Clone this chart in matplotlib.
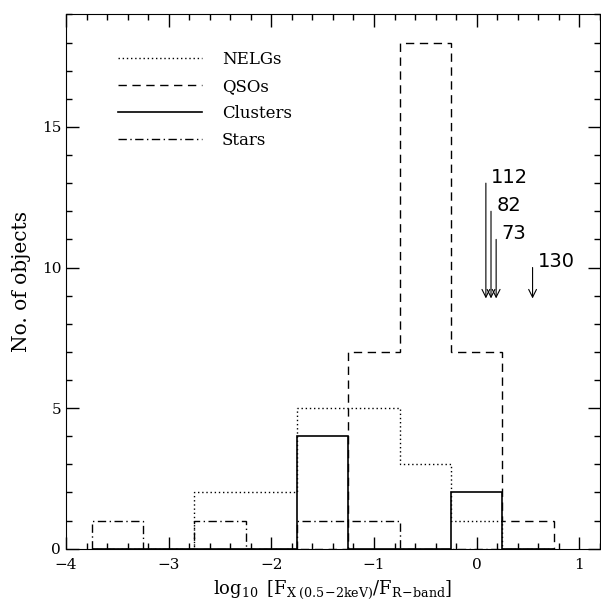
import numpy as np
import matplotlib
matplotlib.use("Agg")
import matplotlib.pyplot as plt
from matplotlib.ticker import MultipleLocator

# bin edges of log10(Fx/FR), width 0.5
edges = [-3.75, -3.25, -2.75, -2.25, -1.75, -1.25, -0.75, -0.25, 0.25, 0.75]
nelgs = [0, 0, 2, 2, 5, 5, 3, 1, 0]
qsos = [0, 0, 0, 0, 0, 7, 18, 7, 1]
clusters = [0, 0, 0, 0, 4, 0, 0, 2, 0]
stars = [1, 0, 1, 0, 1, 1, 0, 0, 0]

# lower limits (arrows) for individual sources
arrow_names = ["112", "82", "73", "130"]
arrow_x = [0.09, 0.14, 0.19, 0.545]
arrow_top = [13, 12, 11, 10]
arrow_tip = 8.9

plt.rcParams["font.family"] = ["DejaVu Serif"]
plt.rcParams["mathtext.fontset"] = "dejavuserif"

fig = plt.figure(figsize=(6.01, 6.01), dpi=100)
ax = fig.add_axes([0.11, 0.087, 0.888, 0.889])

ax.stairs(nelgs, edges, baseline=0, color="black", lw=1.0, ls=(0, (1, 2)), label="NELGs")
ax.stairs(qsos, edges, baseline=0, color="black", lw=1.0, ls=(0, (6, 4)), label="QSOs")
ax.stairs(clusters, edges, baseline=0, color="black", lw=1.2, ls="-", label="Clusters")
ax.stairs(stars, edges, baseline=0, color="black", lw=1.0, ls=(0, (6, 2.5, 1, 2.5)), label="Stars")

for name, x, top in zip(arrow_names, arrow_x, arrow_top):
    ax.annotate("", xy=(x, arrow_tip), xytext=(x, top),
                arrowprops=dict(arrowstyle="->", color="black", lw=0.8,
                                shrinkA=0, shrinkB=0, mutation_scale=14))
    ax.text(x + 0.05, top + 0.2, name, fontsize=14, family="DejaVu Sans",
            ha="left", va="center")

ax.set_xlim(-4, 1.2)
ax.set_ylim(0, 19)
ax.xaxis.set_major_locator(MultipleLocator(1))
ax.xaxis.set_minor_locator(MultipleLocator(0.2))
ax.yaxis.set_major_locator(MultipleLocator(5))
ax.yaxis.set_minor_locator(MultipleLocator(1))
ax.tick_params(which="both", direction="in", top=True, right=True, labelsize=11)
ax.tick_params(which="major", length=9, width=1)
ax.tick_params(which="minor", length=4.5, width=1)
ax.tick_params(axis="x", pad=7)
ax.set_xlabel(r"$\log_{10}\ [\mathrm{F}_{\mathrm{X\ (0.5\!-\!2keV)}}/\mathrm{F}_{\mathrm{R\!-\!band}}]$",
              fontsize=13, labelpad=4)
ax.set_ylabel("No. of objects", fontsize=14.5, labelpad=8)

ax.legend(loc="upper left", bbox_to_anchor=(0.07, 0.96), frameon=False,
          handlelength=5.0, handletextpad=1.2, labelspacing=0.6, fontsize=12)

fig.savefig("out.png", dpi=100)
